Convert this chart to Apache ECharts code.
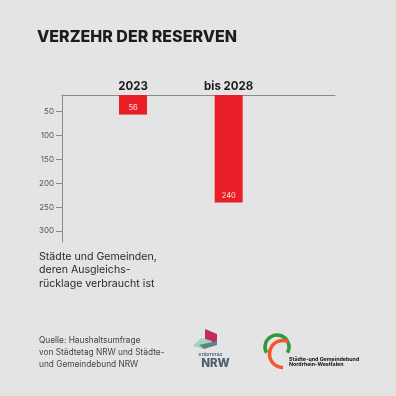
<!DOCTYPE html>
<html>
<head>
<meta charset="utf-8">
<script src="https://cdn.jsdelivr.net/npm/echarts@6/dist/echarts.min.js"></script>
<style>
    html, body { margin: 0; padding: 0; background: #e3e4e3; }
    #main { width: 396px; height: 396px; }
</style>
</head>
<body>
<div id="main"></div>
<script>
    // Daten
    const categories = ['2023', 'bis 2028'];
    const values = [56, 240];
    const yTicks = [50, 100, 150, 200, 250, 300];

    const titleText = 'VERZEHR DER RESERVEN';
    const noteLines = ['Städte und Gemeinden,', 'deren Ausgleichs-', 'rücklage verbraucht ist'];
    const sourceLines = ['Quelle: Haushaltsumfrage', 'von Städtetag NRW und Städte-', 'und Gemeindebund NRW'];

    const FONT = 'Inter, "Noto Sans", sans-serif';
    const yMin = 15, yMax = 323;
    // Kategorien liegen nicht mittig auf der Achse -> x als Wertachse mit Index
    const xMin = -0.742, xMax = 2.111;

    const chart = echarts.init(document.getElementById('main'));

    const option = {
        backgroundColor: '#e3e4e3',
        animation: false,
        title: {
            text: titleText,
            left: 37,
            top: 29,
            padding: 0,
            textStyle: { fontFamily: FONT, fontSize: 16, fontWeight: 800, color: '#1b1c1c' }
        },
        grid: { left: 62, top: 95, width: 273, height: 147 },
        xAxis: {
            type: 'value', position: 'top', min: xMin, max: xMax,
            axisLine: { show: true, onZero: false, lineStyle: { color: '#8a8a8a', width: 1 } },
            axisTick: { show: false },
            splitLine: { show: false },
            axisLabel: {
                customValues: categories.map((c, i) => i),
                formatter: v => categories[v],
                margin: 2, fontFamily: FONT, fontSize: 11.5, fontWeight: 'bold', color: '#1b1c1c'
            }
        },
        yAxis: {
            type: 'value', inverse: true, min: yMin, max: yMax,
            axisLine: { show: true, onZero: false, lineStyle: { color: '#8a8a8a', width: 1 } },
            axisTick: { show: true, length: 6, customValues: yTicks, lineStyle: { color: '#8a8a8a' } },
            axisLabel: { margin: 8, customValues: yTicks, fontFamily: FONT, fontSize: 8, color: '#555' },
            splitLine: { show: false }
        },
        series: [{
            type: 'bar',
            data: values.map((v, i) => [i, v]),
            barWidth: 28,
            clip: true,
            itemStyle: { color: '#e91e26' },
            label: {
                show: true,
                position: 'insideBottom',
                distance: 3,
                formatter: p => p.value[1],
                fontFamily: FONT,
                fontSize: 7.5,
                color: '#fbe3e3'
            }
        }],
        graphic: [
            {
                type: 'text', left: 39, top: 249.5,
                style: { text: noteLines.join('\n'), font: '10.6px ' + FONT, lineHeight: 13.7, fill: '#2a2a2a' }
            },
            {
                type: 'text', left: 39, top: 334.5,
                style: { text: sourceLines.join('\n'), font: '8.3px ' + FONT, lineHeight: 12, fill: '#444' }
            },
            // Logo Städtetag NRW
            { type: 'polygon', shape: { points: [[205, 329], [217, 334], [217, 344], [205, 339]] }, style: { fill: '#c52a5c' } },
            { type: 'polygon', shape: { points: [[193, 346], [201, 338], [212, 341], [204, 349]] }, style: { fill: '#9fd8bc' } },
            { type: 'polygon', shape: { points: [[199, 345], [217, 341], [217, 345], [204, 349]] }, style: { fill: '#5f8089' } },
            { type: 'text', x: 210.5, y: 355, style: { text: 'STÄDTETAG', font: 'bold 4px ' + FONT, fill: '#4d5f70', align: 'center', verticalAlign: 'middle' } },
            { type: 'text', x: 215.5, y: 363.5, style: { text: 'NRW', font: '800 11.5px ' + FONT, fill: '#4d5f70', align: 'center', verticalAlign: 'middle' } },
            // Logo Städte- und Gemeindebund
            { type: 'arc', shape: { cx: 277, cy: 347, r: 12, startAngle: Math.PI - 0.5, endAngle: 2 * Math.PI + 0.5 }, style: { stroke: '#2e9b3b', lineWidth: 3.5, fill: 'none' } },
            { type: 'arc', shape: { cx: 283, cy: 354, r: 13.5, startAngle: -Math.PI / 2 + 0.4, endAngle: Math.PI / 2, clockwise: false }, style: { stroke: '#ef5a2b', lineWidth: 3.5, fill: 'none' } },
            { type: 'text', x: 289, y: 359.3, style: { text: 'Städte-und Gemeindebund', font: 'bold 5.3px ' + FONT, fill: '#111', verticalAlign: 'middle' } },
            { type: 'text', x: 289, y: 364.6, style: { text: 'Nordrhein-Westfalen', font: 'bold 5.3px ' + FONT, fill: '#111', verticalAlign: 'middle' } }
        ]
    };

    chart.setOption(option);
</script>
</body>
</html>
